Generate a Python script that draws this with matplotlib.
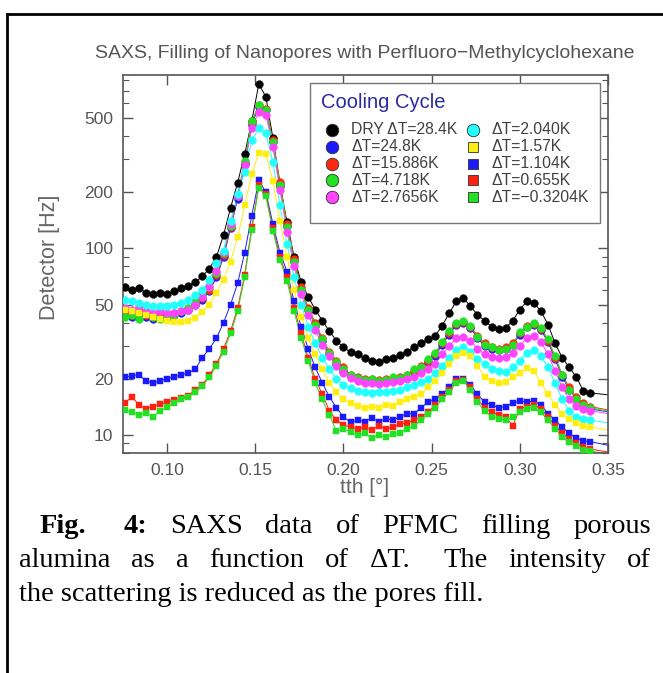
"""SAXS filling of nanopores with PFMC: detector counts vs tth for a cooling cycle."""
import matplotlib

matplotlib.use("Agg")
import matplotlib.pyplot as plt  # noqa: E402
from matplotlib.lines import Line2D  # noqa: E402
from matplotlib.patches import Rectangle  # noqa: E402
from matplotlib.ticker import FixedLocator, FixedFormatter, LogLocator, NullFormatter  # noqa: E402

plt.rcParams["font.family"] = ["Liberation Sans", "DejaVu Sans"]

# tth grid of the scan [deg]
tth = [0.076, 0.080, 0.084, 0.088, 0.092, 0.096, 0.100, 0.104, 0.108, 0.112,
       0.116, 0.120, 0.124, 0.128, 0.132, 0.136, 0.140, 0.144, 0.148, 0.152,
       0.156, 0.160, 0.164, 0.168, 0.172, 0.176, 0.180, 0.184, 0.188, 0.192,
       0.196, 0.200, 0.204, 0.208, 0.212, 0.216, 0.220, 0.224, 0.228, 0.232,
       0.236, 0.240, 0.244, 0.248, 0.252, 0.256, 0.260, 0.264, 0.268, 0.272,
       0.276, 0.280, 0.284, 0.288, 0.292, 0.296, 0.300, 0.304, 0.308, 0.312,
       0.316, 0.320, 0.324, 0.328, 0.332, 0.336, 0.340]
tth_end = 0.35

dry_28_4 = [62, 60, 61, 58, 57, 58, 57, 59, 61, 63, 66, 71, 78, 90, 118, 165, 225, 320, 480, 760,
            650, 390, 215, 138, 90, 66, 55, 47, 41, 36, 32, 29.5, 27.8, 27, 26, 25, 24.6, 25.5, 26, 26.8,
            28, 29.5, 31, 32.5, 34, 38.5, 45, 52, 54, 49, 44, 41, 38, 37, 37.5, 41, 47, 52, 51, 46,
            39, 31, 26, 23, 20.5, 17.2, 16.8]
dt_24_8 = [44, 43, 44, 43, 42, 43, 43, 44, 45, 47, 50, 53, 59, 70, 90, 128, 185, 285, 460, 575,
           550, 372, 222, 132, 86, 60, 46.5, 38.5, 32, 27, 24, 22, 20.5, 19.8, 19.5, 19.3, 19.2, 19.5, 19.6, 20,
           20.5, 21.5, 22.8, 24.5, 26.5, 30.5, 34.5, 39, 40, 37.5, 33, 30, 29, 28.5, 29, 30.5, 34.5, 38, 39, 36.5,
           31.5, 25.5, 20.5, 17.5, 15.5, 14.5, 13.8]
dt_15_886 = [45, 44, 46, 44, 43, 44, 44, 45, 46, 48, 51, 54, 60, 72, 92, 130, 190, 290, 470, 585,
             560, 380, 228, 135, 88, 62, 48, 40, 33, 28, 25, 23, 21, 20.5, 20, 20, 19.8, 20, 20.2, 20.5,
             21, 22, 23.5, 25, 27, 31, 35, 39.5, 40.5, 38, 34, 31, 29.5, 29, 29.5, 31, 35, 38.5, 39.5, 37,
             32, 26, 21, 18, 16, 14.8, 14.2]
dt_4_718 = [43, 44, 42, 45, 43, 42, 43, 44, 46, 48, 52, 56, 62, 74, 95, 132, 192, 295, 480, 590,
            555, 370, 220, 130, 85, 60, 47, 39, 32.5, 27.5, 24.5, 22.5, 21, 20.2, 19.8, 20, 19.5, 19.8, 20.5, 20.2,
            21, 22.5, 23, 25.5, 27.5, 31.5, 36, 40, 41, 38.5, 33.5, 30.5, 29.5, 28.5, 29, 30.5, 35.5, 38, 40, 37.5,
            32.5, 26.5, 21, 17.5, 15.5, 14.5, 14]
dt_2_7656 = [48, 47, 49, 46, 45, 46, 45, 45, 46, 47, 50, 55, 62, 76, 96, 135, 190, 280, 440, 540,
             520, 350, 205, 122, 80, 57, 44, 36.5, 30.5, 26.5, 23.5, 21.5, 20.2, 19.5, 19, 19, 18.8, 19, 19.2, 19.5,
             20, 20.5, 21.5, 22.5, 24, 27, 30, 33, 33.5, 32, 29, 27, 26.2, 26, 26.2, 27.5, 30, 33, 34, 31.5,
             27, 22, 18, 15.5, 14.3, 13.8, 13.5]
dt_2_040 = [53, 52, 51, 50, 49, 49, 49, 50, 51, 53, 56, 60, 68, 83, 97, 140, 195, 256, 380, 440,
            415, 290, 170, 105, 70, 50, 38, 31, 26, 22.5, 20, 18.5, 17.8, 17.2, 17, 16.8, 17, 17, 17.2, 17.5,
            18, 18.5, 19.2, 20, 21.5, 23.5, 26, 28.5, 29.5, 28, 25.5, 24, 22.5, 22, 21.8, 23, 25, 27.5, 28.5, 26.5,
            23, 19, 15.5, 13.5, 12.5, 12.2, 12]
dt_1_57 = [47, 46, 45, 44, 43, 42, 41, 40.5, 40.4, 41, 42.5, 45.5, 50, 58, 68, 85, 115, 170, 250, 325,
           320, 230, 140, 90, 60, 43, 33, 27, 22.5, 19, 17, 15.5, 14.8, 14.3, 14, 14.2, 14, 14.5, 14.3, 15,
           15.5, 16, 16.5, 18, 19.5, 21.5, 24, 26.5, 27.5, 26.5, 23.5, 20.5, 19.5, 19, 19.2, 20.5, 21.5, 22.8, 22, 19,
           16.5, 14.5, 13, 12.2, 11.6, 11.2, 11]
dt_1_104 = [20.4, 20.8, 21, 19.5, 19, 19.5, 20, 20.5, 21, 21.5, 22.5, 26, 29, 33, 40, 50, 65, 95, 150, 232,
            200, 135, 95, 75, 52, 38, 29, 23, 19, 16, 14, 12.5, 11.7, 12, 11.8, 12.3, 11.8, 12.2, 12, 12.5,
            13, 13, 14, 15, 15.5, 16.5, 18, 20, 20, 18.5, 16.5, 15, 14.5, 14, 14.2, 14.8, 15.2, 15, 15.2, 14.5,
            13, 12, 11, 10.2, 9.6, 9.3, 9.2]
dt_0_655 = [14.8, 16, 14.5, 13.8, 14.2, 14.6, 15, 15.4, 15.8, 16.2, 17.5, 18.5, 21, 24, 29, 36, 48, 72, 130, 218,
            195, 128, 90, 70, 48, 35, 26, 20, 16.5, 13.5, 12, 11.3, 11, 10.8, 11, 10.6, 11.2, 10.8, 11, 11.4,
            11.6, 12, 12.5, 13.2, 14.5, 16, 17.5, 19.5, 19.8, 18, 15.5, 14, 13.2, 12.8, 12.5, 11.2, 13.8, 14.2, 14.5, 13.8,
            12.5, 11.2, 10.2, 9.5, 9, 8.6, 8.4]
dt_m0_3204 = [13.6, 13.2, 12.8, 13.1, 12.5, 13.4, 14.1, 14.8, 15.5, 16, 17, 18.2, 20.5, 23.5, 28, 35, 46, 70, 125, 212,
              190, 124, 87, 67, 46, 33, 25, 19, 15.5, 12.8, 10.5, 10.8, 10.4, 10, 10.2, 9.6, 10, 9.7, 10.1, 10.3,
              10.8, 11.2, 12, 13, 14, 15.5, 17, 19, 19.5, 17.5, 15, 13.5, 12.5, 12.2, 12, 12.5, 13.2, 13.8, 14, 13.2,
              12, 10.8, 9.8, 9.2, 8.7, 8.3, 8.2]

# value of each curve where it leaves the frame at tth_end
end_values = [16.4, 13.3, 13.6, 13.4, 13.0, 11.6, 10.6, 8.8, 8.1, 7.9]

labels = ["DRY ΔT=28.4K", "ΔT=24.8K", "ΔT=15.886K", "ΔT=4.718K", "ΔT=2.7656K",
          "ΔT=2.040K", "ΔT=1.57K", "ΔT=1.104K", "ΔT=0.655K", "ΔT=−0.3204K"]
series = [dry_28_4, dt_24_8, dt_15_886, dt_4_718, dt_2_7656,
          dt_2_040, dt_1_57, dt_1_104, dt_0_655, dt_m0_3204]
colors = ["#000000", "#1a1aff", "#ff2a10", "#22e022", "#ff44ff",
          "#22ffff", "#ffee11", "#1a1aff", "#ff2010", "#22e022"]
markers = ["o", "o", "o", "o", "o", "o", "s", "s", "s", "s"]

W, H = 663, 673
GREY = "#555555"


def fx(px):
    return px / W


def fy(py):
    return 1 - py / H


fig = plt.figure(figsize=(W / 100, H / 100), dpi=100)
ax = fig.add_axes([fx(123), fy(453), 485 / W, 378 / H])

for ys, c, m, end in zip(series, colors, markers, end_values):
    ms = 5.6 if m == "o" else 4.6
    ax.plot(tth + [tth_end], ys + [end], color=c, lw=0.7, zorder=2)
    ax.plot(tth, ys, ls="none", marker=m, ms=ms, mfc=c, mec=c, mew=0.3, zorder=3)

ax.set_yscale("log")
ax.set_xlim(0.075, 0.35)
ax.set_ylim(8.0, 850)

ax.xaxis.set_major_locator(FixedLocator([0.10, 0.15, 0.20, 0.25, 0.30, 0.35]))
ax.xaxis.set_major_formatter(FixedFormatter(["0.10", "0.15", "0.20", "0.25", "0.30", "0.35"]))
ax.yaxis.set_major_locator(FixedLocator([10, 20, 50, 100, 200, 500]))
ax.yaxis.set_major_formatter(FixedFormatter(["10", "20", "50", "100", "200", "500"]))
ax.yaxis.set_minor_locator(LogLocator(base=10, subs=range(2, 10)))
ax.yaxis.set_minor_formatter(NullFormatter())
ax.tick_params(which="both", direction="in", top=True, right=True, color=GREY,
               labelcolor=GREY, labelsize=12.5)
ax.tick_params(which="major", length=7, width=1.0, pad=7)
ax.tick_params(which="minor", length=4, width=0.8)
for sp in ax.spines.values():
    sp.set_color(GREY)
    sp.set_linewidth(1.2)

# legend box drawn by hand, two columns of five rows
fig.add_artist(Rectangle((fx(310), fy(223)), 290 / W, 140 / H, transform=fig.transFigure,
                         facecolor="white", edgecolor="#777777", lw=1.0, zorder=5))
fig.text(fx(321), fy(103), "Cooling Cycle", ha="left", va="center", fontsize=14.5,
         color="#2a2aa0", zorder=6)
for k, (lab, c, m) in enumerate(zip(labels, colors, markers)):
    col, row = divmod(k, 5)
    yrow = 130 + 16.8 * row
    xm = 332 if col == 0 else 473
    xt = 351 if col == 0 else 491
    fig.add_artist(Line2D([fx(xm)], [fy(yrow)], ls="none", marker=m, ms=(9 if m == "o" else 6.5),
                          mfc=c, mec="#303030", mew=0.6, transform=fig.transFigure, zorder=6))
    fig.text(fx(xt), fy(yrow), lab, ha="left", va="center", fontsize=11.3, color="#404040", zorder=6)

fig.text(fx(365), fy(53), "SAXS, Filling of Nanopores with Perfluoro−Methylcyclohexane",
         ha="center", va="center", fontsize=14, color=GREY)
fig.text(fx(50), fy(257), "Detector [Hz]", rotation=90, ha="center", va="center",
         fontsize=15.5, color="#666666")
fig.text(fx(365), fy(487), "tth [°]", ha="center", va="center", fontsize=15, color="#666666")

# page border around figure + caption
fig.add_artist(Line2D([fx(7), fx(7)], [fy(14), 0], color="black", lw=2))
fig.add_artist(Line2D([fx(7), 1], [fy(14), fy(14)], color="black", lw=2))

# justified caption
renderer = fig.canvas.get_renderer()
CAP = dict(family=["Liberation Serif", "DejaVu Serif"], fontsize=20.5, color="black", va="baseline")


def justify(words, y_px, x0_px, x1_px, bold=0, wide_after=None):
    items = []
    for i, w in enumerate(words):
        t = fig.text(0, fy(y_px), w, fontweight=("bold" if i < bold else "normal"), **CAP)
        items.append((t, t.get_window_extent(renderer).width))
    weights = [1.6 if i == wide_after else 1 for i in range(len(words) - 1)]
    gap = (x1_px - x0_px - sum(wd for _, wd in items)) / sum(weights)
    x = x0_px
    for i, (t, wd) in enumerate(items):
        t.set_x(fx(x))
        x += wd + (gap * weights[i] if i < len(weights) else 0)


justify(["Fig.", "4:", "SAXS", "data", "of", "PFMC", "filling", "porous"], 533, 40, 651,
        bold=2, wide_after=0)
justify(["alumina", "as", "a", "function", "of", "ΔT.", "The", "intensity", "of"], 567, 19, 651,
        wide_after=5)
fig.text(fx(19), fy(601), "the scattering is reduced as the pores fill.", **CAP)

fig.savefig("out.png", dpi=100)
